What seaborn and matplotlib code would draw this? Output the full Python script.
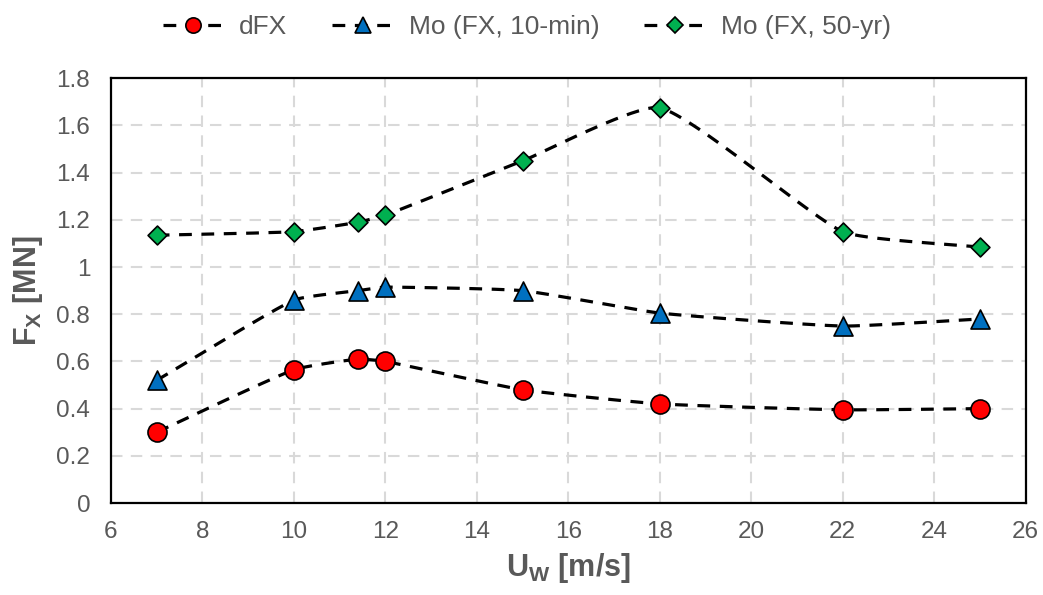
import numpy as np
import matplotlib
matplotlib.use("Agg")
import matplotlib.pyplot as plt
from matplotlib.lines import Line2D
from matplotlib.ticker import FuncFormatter, MultipleLocator
import seaborn as sns

# Wind speed [m/s]
wind_speed = [7, 10, 11.4, 12, 15, 18, 22, 25]

# Horizontal force F_X [MN]
dfx = [0.30, 0.565, 0.61, 0.60, 0.48, 0.42, 0.395, 0.40]
mo_10min = [0.52, 0.86, 0.90, 0.915, 0.90, 0.805, 0.75, 0.78]
mo_50yr = [1.135, 1.15, 1.19, 1.22, 1.45, 1.675, 1.15, 1.085]

series_names = ["dFX", "Mo (FX, 10-min)", "Mo (FX, 50-yr)"]
series_values = [dfx, mo_10min, mo_50yr]

sns.set_theme(style="white")
plt.rcParams["font.family"] = ["Liberation Sans", "DejaVu Sans"]
plt.rcParams["mathtext.fontset"] = "custom"
plt.rcParams["mathtext.rm"] = "Liberation Sans"
plt.rcParams["mathtext.bf"] = "Liberation Sans:bold"
plt.rcParams["mathtext.it"] = "Liberation Sans:italic"

GREY = "#595959"
styles = [
    dict(marker="o", color="#FF0000", ms=13.7, lms=11),
    dict(marker="^", color="#0070C0", ms=13.7, lms=11),
    dict(marker="D", color="#00B050", ms=9.6, lms=8),
]

XLIM = (6, 26)
YLIM = (0, 1.8)
AX_RECT = [0.1064, 0.1546, 0.877, 0.7138]
FIG_W, FIG_H = 1043, 595


def smooth_curve(x, y, sx, sy, f=0.15, n=40):
    """Bezier smoothing through every point, computed in display proportions.

    Each point's tangent follows the chord of its neighbours; the handle on
    either side is a fraction of that side's segment length.
    """
    pts = np.column_stack([np.asarray(x, float) * sx, np.asarray(y, float) * sy])
    m = len(pts)
    dirs = []
    for i in range(m):
        a = pts[max(i - 1, 0)]
        b = pts[min(i + 1, m - 1)]
        d = b - a
        dirs.append(d / np.hypot(*d))
    t = np.linspace(0, 1, n)[:, None]
    out = []
    for i in range(m - 1):
        p0, p3 = pts[i], pts[i + 1]
        seg_len = np.hypot(*(p3 - p0))
        p1 = p0 + dirs[i] * seg_len * f
        p2 = p3 - dirs[i + 1] * seg_len * f
        seg = ((1 - t) ** 3) * p0 + 3 * ((1 - t) ** 2) * t * p1 \
            + 3 * (1 - t) * t ** 2 * p2 + t ** 3 * p3
        out.append(seg if i == 0 else seg[1:])
    out = np.vstack(out)
    return out[:, 0] / sx, out[:, 1] / sy


fig = plt.figure(figsize=(FIG_W / 100, FIG_H / 100), dpi=100)
ax = fig.add_axes(AX_RECT)

# pixels per data unit, so the smoothing follows on-screen geometry
px_x = AX_RECT[2] * FIG_W / (XLIM[1] - XLIM[0])
px_y = AX_RECT[3] * FIG_H / (YLIM[1] - YLIM[0])

dash = (0, (4, 3))
handles = []
for name, vals, st in zip(series_names, series_values, styles):
    cx, cy = smooth_curve(wind_speed, vals, px_x, px_y)
    sns.lineplot(x=cx, y=cy, ax=ax, sort=False, color="black", lw=2.3,
                 linestyle=dash, zorder=3, estimator=None)
    sns.scatterplot(x=wind_speed, y=vals, ax=ax, marker=st["marker"],
                    color=st["color"], edgecolor="black", linewidth=1.2,
                    s=st["ms"] ** 2, zorder=4)
    handles.append(Line2D([], [], color="black", lw=2.3, linestyle=dash,
                          marker=st["marker"], markersize=st["lms"],
                          markerfacecolor=st["color"], markeredgecolor="black",
                          markeredgewidth=1.2, label=name))

ax.set_xlim(*XLIM)
ax.set_ylim(*YLIM)
ax.xaxis.set_major_locator(MultipleLocator(2))
ax.yaxis.set_major_locator(MultipleLocator(0.2))
ax.yaxis.set_major_formatter(FuncFormatter(lambda v, p: f"{v:g}"))
ax.xaxis.set_major_formatter(FuncFormatter(lambda v, p: f"{v:g}"))

ax.grid(True, color="#D9D9D9", lw=1.5, linestyle=(0, (5.5, 4)), zorder=0)
ax.set_axisbelow(True)
for sp in ax.spines.values():
    sp.set_visible(True)
    sp.set_color("black")
    sp.set_linewidth(1.6)

ax.tick_params(axis="both", length=0, labelsize=17.5, labelcolor=GREY)
ax.tick_params(axis="y", pad=15)
ax.tick_params(axis="x", pad=13)

ax.set_xlabel(r"U$_{\mathbf{W}}$ [m/s]", fontsize=22, fontweight="bold",
              color=GREY, labelpad=6)
ax.set_ylabel(r"F$_{\mathbf{X}}$ [MN]", fontsize=22, fontweight="bold",
              color=GREY, labelpad=8)

fig.legend(handles=handles, loc="center", bbox_to_anchor=(0.505, 0.955),
           ncol=3, frameon=False, fontsize=19, handlelength=2.3,
           handletextpad=0.6, columnspacing=1.7, labelcolor=GREY)

fig.savefig("out.png", dpi=100)
